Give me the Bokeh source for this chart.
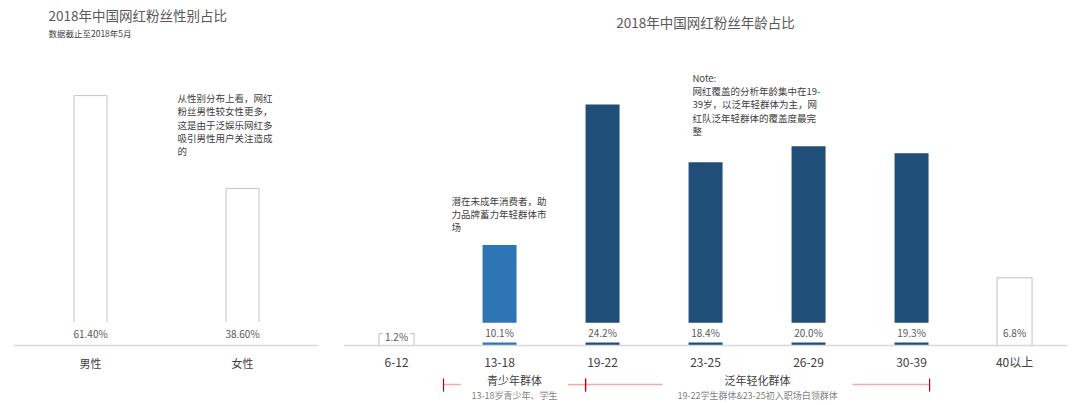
from bokeh.plotting import figure
from bokeh.models import Range1d, FixedTicker, Label, ColumnDataSource
from bokeh.layouts import row
from bokeh.core.properties import value
from bokeh.embed import file_html
from bokeh.resources import INLINE

FONT = "Noto Sans CJK SC"

# ---------------- data ----------------
gender_categories = ["男性", "女性"]
gender_values = [61.40, 38.60]
gender_labels = ["61.40%", "38.60%"]

age_categories = ["6-12", "13-18", "19-22", "23-25", "26-29", "30-39", "40以上"]
age_values = [1.2, 10.1, 24.2, 18.4, 20.0, 19.3, 6.8]
age_labels = ["1.2%", "10.1%", "24.2%", "18.4%", "20.0%", "19.3%", "6.8%"]
age_fill = [None, "#2e75b6", "#1f4e79", "#1f4e79", "#1f4e79", "#1f4e79", None]

group_names = ["青少年群体", "泛年轻化群体"]
group_descs = ["13-18岁青少年、学生", "19-22学生群体&23-25初入职场白领群体"]

title_left = "2018年中国网红粉丝性别占比"
subtitle_left = "数据截止至2018年5月"
note_left = "从性别分布上看，网红\n粉丝男性较女性更多，\n这是由于泛娱乐网红多\n吸引男性用户关注造成\n的"
title_right = "2018年中国网红粉丝年龄占比"
note_right = "Note:\n网红覆盖的分析年龄集中在19-\n39岁，以泛年轻群体为主，网\n红队泛年轻群体的覆盖度最完\n整"
note_teen = "潜在未成年消费者，助\n力品牌蓄力年轻群体市\n场"


def style_axis(p, cats, size, color, standoff):
    ax = p.xaxis[0]
    ax.fixed_location = 0
    ax.ticker = FixedTicker(ticks=list(range(len(cats))))
    ax.major_label_overrides = {i: c for i, c in enumerate(cats)}
    ax.major_tick_line_color = None
    ax.minor_tick_line_color = None
    ax.axis_line_color = "#d9d9d9"
    ax.axis_line_width = 1.5
    ax.major_label_standoff = standoff
    ax.major_label_text_font = FONT
    ax.major_label_text_font_size = size
    ax.major_label_text_color = color


def base_fig(width, xr, yr, bl, br):
    p = figure(width=width, height=405, x_range=xr, y_range=yr,
               output_backend="svg", toolbar_location=None, y_axis_location=None,
               min_border_left=bl, min_border_right=br, min_border_top=0, min_border_bottom=0)
    p.outline_line_color = None
    p.grid.visible = False
    p.background_fill_color = "white"
    p.border_fill_color = "white"
    return p


NOTE_LH = 0.96

# ---------------- left chart ----------------
p1 = base_fig(340, Range1d(-0.507, 1.5), Range1d(-14.74, 84.77), 13, 22)
src1 = ColumnDataSource(dict(x=list(range(len(gender_categories))), top=gender_values,
                             label=gender_labels, ly=[2.95] * len(gender_values)))
p1.vbar(x="x", top="top", bottom=0, width=0.217, source=src1,
        fill_color=None, line_color="#c4c4c4", line_width=1)
p1.text(x="x", y="ly", text="label", source=src1, text_align="center", text_baseline="middle",
        text_font=value(FONT), text_font_size="10px", text_color="#595959",
        background_fill_color="white", padding=4)
style_axis(p1, gender_categories, "11px", "#404040", 3)

p1.add_layout(Label(x=-0.277, y=81.1, text=title_left, text_font=FONT, text_font_size="13.5px",
                    text_color="#595959", text_baseline="middle"))
p1.add_layout(Label(x=-0.277, y=76.9, text=subtitle_left, text_font=FONT, text_font_size="8.5px",
                    text_color="#404040", text_baseline="middle"))
p1.add_layout(Label(x=0.572, y=62.6, text=note_left, text_font=FONT, text_font_size="9.5px",
                    text_color="#404040", text_baseline="top", text_line_height=NOTE_LH))

# ---------------- right chart ----------------
p2 = base_fig(740, Range1d(-0.515, 6.514), Range1d(-6.02, 34.64), 3, 13)
xs = list(range(len(age_categories)))
fx = [x for x, c in zip(xs, age_fill) if c]
ft = [v for v, c in zip(age_values, age_fill) if c]
fc = [c for c in age_fill if c]
ox = [x for x, c in zip(xs, age_fill) if not c]
ot = [v for v, c in zip(age_values, age_fill) if not c]

p2.vbar(x=fx, top=ft, bottom=0, width=0.33, fill_color=fc, line_color=None)
p2.vbar(x=fx, top=2.3, bottom=0.3, width=0.345, fill_color="white", line_color=None)
p2.vbar(x=ox, top=ot, bottom=0, width=0.34, fill_color=None, line_color="#bfbfbf", line_width=1)
ly = [0.9 if v < 2 else 1.3 for v in age_values]
p2.text(x=xs, y=ly, text=age_labels, text_align="center", text_baseline="middle",
        text_font=value(FONT), text_font_size="10px", text_color="#595959",
        background_fill_color="white", padding=2)
style_axis(p2, age_categories, "12px", "#404040", 1)

p2.add_layout(Label(x=3.0, y=32.5, text=title_right, text_font=FONT, text_font_size="13.5px",
                    text_color="#595959", text_baseline="middle", text_align="center"))
p2.add_layout(Label(x=2.873, y=27.6, text=note_right, text_font=FONT, text_font_size="9.5px",
                    text_color="#404040", text_baseline="top", text_line_height=NOTE_LH))
p2.add_layout(Label(x=0.534, y=15.26, text=note_teen, text_font=FONT, text_font_size="9.5px",
                    text_color="#404040", text_baseline="top", text_line_height=NOTE_LH))

# group brackets below axis
g_start = [0.456, 1.835]
g_end = [1.835, 5.175]
g_gap = [0.52, 0.922]
line_y = -3.92
for s, e, gap, name, desc in zip(g_start, g_end, g_gap, group_names, group_descs):
    c = (s + e) / 2
    p2.segment(x0=[s, c + gap], y0=[line_y, line_y], x1=[c - gap, e], y1=[line_y, line_y],
               line_color="#f2a9a9", line_width=1.5)
    p2.segment(x0=[s, e], y0=[-3.31, -3.31], x1=[s, e], y1=[-4.62, -4.62],
               line_color="#c00000", line_width=1.2)
    p2.add_layout(Label(x=c, y=-3.51, text=name, text_font=FONT, text_font_size="11px",
                        text_color="#404040", text_align="center", text_baseline="middle"))
    p2.add_layout(Label(x=c, y=-5.02, text=desc, text_font=FONT, text_font_size="9px",
                        text_color="#7f7f7f", text_align="center", text_baseline="middle"))

layout = row(p1, p2)
open("out.html", "w").write(file_html(layout, INLINE))
